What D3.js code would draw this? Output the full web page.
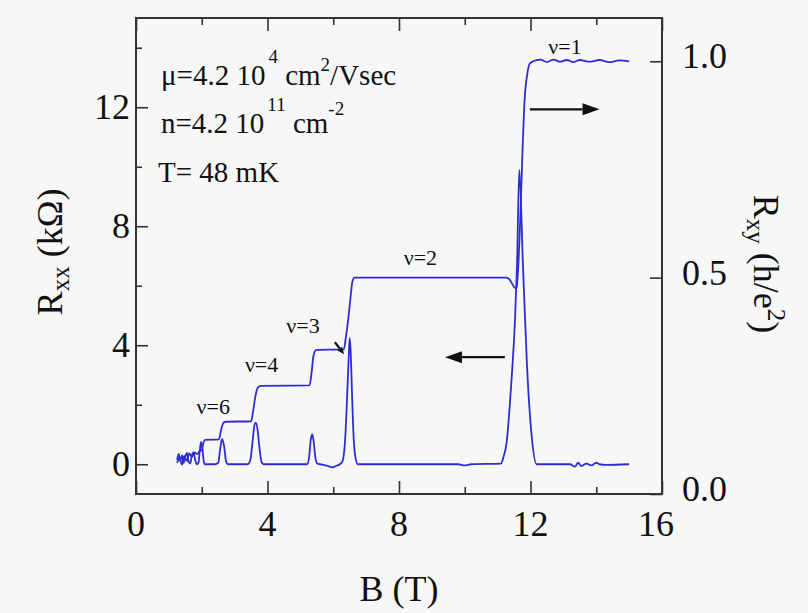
<!DOCTYPE html>
<html>
<head>
<meta charset="utf-8">
<script src="https://cdn.jsdelivr.net/npm/d3@7"></script>
<style>
  html, body { margin: 0; padding: 0; background: #f7f7f7; }
  svg { display: block; }
  text { font-family: "Liberation Serif", "Times New Roman", serif; fill: #111; }
</style>
</head>
<body>
<svg id="chart" width="808" height="613"></svg>
<script>
// ---- data ----
// Hall resistance Rxy in units of h/e^2
const rxyB = [1.25,1.32,1.40,1.47,1.55,1.62,1.70,1.78,1.86,1.94,2.00,2.05,2.10,2.52,2.58,2.65,2.72,3.50,3.56,3.63,3.70,3.78,
              5.28,5.34,5.40,5.48,6.32,6.38,6.45,6.52,6.58,6.65,11.25,11.35,11.45,11.53,11.58,11.63,11.70,11.76,11.82,11.90,11.98,
              12.08,12.3,12.5,12.7,12.9,13.1,13.3,13.5,13.8,14.1,14.4,14.7,15.0];
const rxyVal = [0.072,0.082,0.068,0.088,0.076,0.094,0.086,0.096,0.092,0.100,0.102,0.118,0.125,0.126,0.145,0.163,0.167,0.168,0.190,0.225,0.245,0.250,
                0.251,0.280,0.320,0.333,0.334,0.360,0.400,0.450,0.490,0.500,0.500,0.497,0.485,0.476,0.478,0.530,0.660,0.800,0.910,0.970,0.995,
                1.000,1.004,0.998,1.004,0.999,1.003,0.998,1.003,0.999,1.003,0.998,1.002,1.000];
// Longitudinal resistance Rxx in kOhm
const rxxB = [1.25,1.30,1.35,1.40,1.45,1.50,1.55,1.60,1.65,1.70,1.75,1.80,1.85,1.90,1.94,1.98,2.02,2.06,2.10,2.40,2.50,2.56,2.62,2.68,2.74,2.80,
              3.40,3.48,3.54,3.60,3.64,3.70,3.76,3.82,3.88,5.20,5.26,5.32,5.36,5.40,5.46,5.52,5.60,5.80,6.00,6.10,6.20,
              6.28,6.36,6.42,6.47,6.50,6.53,6.57,6.62,6.68,6.75,9.8,10.0,10.2,11.10,11.18,11.27,11.42,11.53,11.59,11.66,11.77,11.89,12.04,12.19,
              13.2,13.35,13.45,13.55,13.7,13.85,14.0,14.1,14.3,15.0];
const rxxVal = [0.15,0.35,0.10,0.30,0.05,0.25,0.38,0.10,0.02,0.30,0.40,0.15,0.00,0.05,0.45,0.75,0.55,0.10,0.00,0.00,0.05,0.50,0.85,0.60,0.10,0.00,
                0.00,0.15,0.70,1.30,1.40,1.15,0.50,0.08,0.00,0.00,0.20,0.85,1.00,0.80,0.20,0.02,0.00,-0.05,-0.10,-0.05,0.00,
                0.10,0.80,2.20,3.60,4.25,3.80,2.40,0.90,0.20,0.00,0.00,-0.04,0.00,0.02,0.25,0.70,2.80,4.90,6.70,9.90,6.70,3.40,0.90,0.00,
                0.00,-0.08,0.05,-0.06,0.02,-0.04,0.05,0.00,-0.02,0.00];
const xTicks = [0, 4, 8, 12, 16];
const xMinorTicks = [2, 6, 10, 14];
const yTicks = [0, 4, 8, 12];
const yMinorTicks = [2, 6, 10, 14];
const y2Ticks = [0.0, 0.5, 1.0];
const nuLabels = [
  {t: "ν=1", B: 13.05, R: 13.8},
  {t: "ν=2", B: 8.65, R: 6.7},
  {t: "ν=3", B: 5.08, R: 4.4},
  {t: "ν=4", B: 3.82, R: 3.1},
  {t: "ν=6", B: 2.35, R: 1.7}
];

// ---- layout ----
const svg = d3.select("#chart");
const L = 136, R = 662, T = 18, Bm = 494;
const x = d3.scaleLinear().domain([0, 16]).range([L, R]);
const y = d3.scaleLinear().domain([-1, 15]).range([Bm, T]);
const y2 = d3.scaleLinear().domain([0, 1.1]).range([Bm, T]);
const blue = "#2e2ed0";
const axisColor = "#333";

svg.append("rect").attr("width", 808).attr("height", 613).attr("fill", "#f7f7f7");

// curves
const lineXX = d3.line().x((d, i) => x(rxxB[i])).y((d, i) => y(rxxVal[i])).curve(d3.curveMonotoneX);
const lineXY = d3.line().x((d, i) => x(rxyB[i])).y((d, i) => y2(rxyVal[i])).curve(d3.curveMonotoneX);
svg.append("path").attr("d", lineXX(rxxB)).attr("fill", "none").attr("stroke", blue).attr("stroke-width", 1.8);
svg.append("path").attr("d", lineXY(rxyB)).attr("fill", "none").attr("stroke", blue).attr("stroke-width", 1.8);

// axes (ticks inward)
function styleAxis(g) {
  g.select(".domain").remove();
  g.selectAll("line").attr("stroke", axisColor).attr("stroke-width", 1.6);
  g.selectAll("text").remove();
}
svg.append("g").attr("transform", `translate(0,${Bm})`).call(d3.axisTop(x).tickValues(xTicks).tickSize(13)).call(styleAxis);
svg.append("g").attr("transform", `translate(0,${Bm})`).call(d3.axisTop(x).tickValues(xMinorTicks).tickSize(7)).call(styleAxis);
svg.append("g").attr("transform", `translate(0,${T})`).call(d3.axisBottom(x).tickValues(xTicks).tickSize(13)).call(styleAxis);
svg.append("g").attr("transform", `translate(0,${T})`).call(d3.axisBottom(x).tickValues(xMinorTicks).tickSize(7)).call(styleAxis);
svg.append("g").attr("transform", `translate(${L},0)`).call(d3.axisRight(y).tickValues(yTicks).tickSize(12)).call(styleAxis);
svg.append("g").attr("transform", `translate(${L},0)`).call(d3.axisRight(y).tickValues(yMinorTicks).tickSize(6)).call(styleAxis);
svg.append("g").attr("transform", `translate(${R},0)`).call(d3.axisLeft(y2).tickValues(y2Ticks).tickSize(12)).call(styleAxis);

svg.append("rect").attr("x", L).attr("y", T).attr("width", R - L).attr("height", Bm - T)
  .attr("fill", "none").attr("stroke", axisColor).attr("stroke-width", 2);

// tick labels
svg.selectAll(".xl").data(xTicks).enter().append("text")
  .attr("x", d => x(d) - (d === 16 ? 6 : 0)).attr("y", 536).attr("text-anchor", "middle")
  .attr("font-size", 36).text(d => d);
svg.selectAll(".yl").data(yTicks).enter().append("text")
  .attr("x", 130).attr("y", d => y(d) + 12).attr("text-anchor", "end")
  .attr("font-size", 36).text(d => d);
svg.selectAll(".y2l").data(y2Ticks).enter().append("text")
  .attr("x", 682).attr("y", d => y2(d) + 7).attr("text-anchor", "start")
  .attr("font-size", 36).text(d => d.toFixed(1));

// axis titles
svg.append("text").attr("x", 399).attr("y", 601).attr("text-anchor", "middle").attr("font-size", 36).text("B (T)");
const yt = svg.append("text").attr("transform", "translate(62,252) rotate(-90)").attr("text-anchor", "middle").attr("font-size", 36);
yt.append("tspan").text("R");
yt.append("tspan").attr("font-size", 25).attr("dy", 7).text("xx");
yt.append("tspan").attr("dy", -7).text(" (kΩ)");
const y2t = svg.append("text").attr("transform", "translate(754,264) rotate(90)").attr("text-anchor", "middle").attr("font-size", 36);
y2t.append("tspan").text("R");
y2t.append("tspan").attr("font-size", 25).attr("dy", 7).text("xy");
y2t.append("tspan").attr("dy", -7).text(" (h/e");
y2t.append("tspan").attr("font-size", 25).attr("dy", -14).text("2");
y2t.append("tspan").attr("dy", 14).text(")");

// annotation block
const a1 = svg.append("text").attr("x", 161).attr("y", 85).attr("font-size", 29);
a1.append("tspan").text("μ=4.2 10");
a1.append("tspan").attr("font-size", 19).attr("dy", -22).attr("dx", 3).text("4");
a1.append("tspan").attr("dy", 22).text(" cm");
a1.append("tspan").attr("font-size", 19).attr("dy", -14).text("2");
a1.append("tspan").attr("dy", 14).text("/Vsec");
const a2 = svg.append("text").attr("x", 161).attr("y", 133).attr("font-size", 29);
a2.append("tspan").text("n=4.2 10");
a2.append("tspan").attr("font-size", 19).attr("dy", -22).attr("dx", 3).text("11");
a2.append("tspan").attr("dy", 22).text(" cm");
a2.append("tspan").attr("font-size", 19).attr("dy", -18).text("-2");
svg.append("text").attr("x", 158).attr("y", 182).attr("font-size", 29).text("T= 48 mK");

// filling factor labels
svg.selectAll(".nu").data(nuLabels).enter().append("text")
  .attr("x", d => x(d.B)).attr("y", d => y(d.R)).attr("text-anchor", "middle")
  .attr("font-size", 22).text(d => d.t);

// arrows
function arrow(x1, y1, x2, y2p, head, hw) {
  const ang = Math.atan2(y2p - y1, x2 - x1);
  const bx = x2 - head * Math.cos(ang), by = y2p - head * Math.sin(ang);
  svg.append("line").attr("x1", x1).attr("y1", y1).attr("x2", bx).attr("y2", by)
    .attr("stroke", "#111").attr("stroke-width", 2.2);
  const px = -Math.sin(ang) * hw, py = Math.cos(ang) * hw;
  svg.append("path").attr("d", `M${x2},${y2p}L${bx + px},${by + py}L${bx - px},${by - py}Z`).attr("fill", "#111");
}
arrow(x(11.22), y(3.6), x(9.4), y(3.6), 17, 6);
arrow(x(11.98), y(11.93), x(14.1), y(11.93), 17, 6);
arrow(x(6.05), y(4.1), x(6.33), y(3.9) + 6, 7, 3);
</script>
</body>
</html>
